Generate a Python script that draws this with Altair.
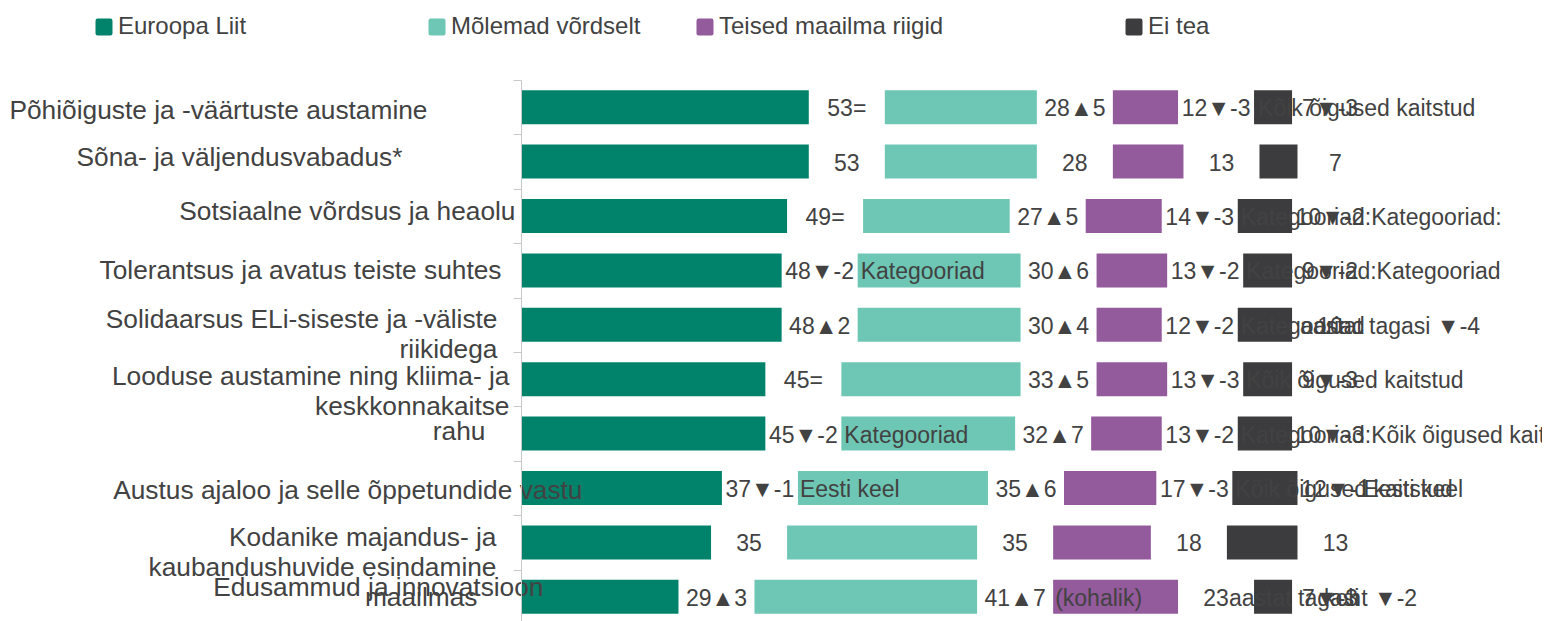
import json
import altair as alt
import pandas as pd

# ---------------- data ----------------
CATEGORIES = [
    "Põhiõiguste ja -väärtuste austamine",
    "Sõna- ja väljendusvabadus*",
    "Sotsiaalne võrdsus ja heaolu",
    "Tolerantsus ja avatus teiste suhtes",
    "Solidaarsus ELi-siseste ja -väliste riikidega",
    "Looduse austamine ning kliima- ja keskkonnakaitse",
    "rahu",
    "Austus ajaloo ja selle õppetundide vastu",
    "Kodanike majandus- ja kaubandushuvide esindamine maailmas",
    "Edusammud ja innovatsioon",
]
BLANK = "\u2800"
LABEL_LINES = [
    ["Põhiõiguste ja -väärtuste austamine"],
    ["Sõna- ja väljendusvabadus*"],
    ["Sotsiaalne võrdsus ja heaolu"],
    ["Tolerantsus ja avatus teiste suhtes"],
    ["Solidaarsus ELi-siseste ja -väliste", "riikidega"],
    ["Looduse austamine ning kliima- ja", "keskkonnakaitse"],
    ["rahu"],
    ["Austus ajaloo ja selle õppetundide vastu"],
    ["Kodanike majandus- ja", "kaubandushuvide esindamine", "maailmas" + BLANK],
    ["Edusammud ja innovatsioon"],
]
SERIES = ["Euroopa Liit", "Mõlemad võrdselt", "Teised maailma riigid", "Ei tea"]

EU = [53, 53, 49, 48, 48, 45, 45, 37, 35, 29]
BOTH = [28, 28, 27, 30, 30, 33, 32, 35, 35, 41]
OTHER = [12, 13, 14, 13, 12, 13, 13, 17, 18, 23]
DONT_KNOW = [7, 7, 10, 9, 10, 9, 10, 12, 13, 7]

EU_CHG = ["=", "", "=", "▼-2", "▲2", "=", "▼-2", "▼-1", "", "▲3"]
BOTH_CHG = ["▲5", "", "▲5", "▲6", "▲4", "▲5", "▲7", "▲6", "", "▲7"]
OTHER_CHG = ["▼-3", "", "▼-3", "▼-2", "▼-2", "▼-3", "▼-2", "▼-3", "", ""]
DK_CHG = ["▼-3", "", "▼-2", "▼-2", "", "▼-3", "▼-3", "▼-1", "", "▼-3"]

# stray overlapping texts seen in the picture: (row, series, anchor, text)
NOTES = [
    (0, 3, "start", "Kõik õigused kaitstud"),
    (2, 3, "start", "Kategooriad:Kategooriad:"),
    (3, 1, "start", "Kategooriad"),
    (3, 3, "start", "Kategooriad:Kategooriad"),
    (4, 3, "start", "Kategooriad"),
    (4, 3, "end", "aastat tagasi ▼-4"),
    (5, 3, "start", "Kõik õigused kaitstud"),
    (6, 1, "start", "Kategooriad"),
    (6, 3, "start", "Kategooriad:Kõik õigused kaitstud"),
    (7, 1, "start", "Eesti keel"),
    (7, 3, "start", "Kõik õigused kaitstud"),
    (7, 3, "end", "Eesti keel"),
    (9, 2, "start", "(kohalik)"),
    (9, 2, "end", "aastat tagasi"),
    (9, 3, "end", "koht ▼-2"),
]

# ---------------- layout / style ----------------
NOTE_SHIFT_PX = [4, 3, 3, 3, 3, 8, 3, 3, 3, 2, 3, 66, 2, 51, 32]
LABEL_DY = [3, -4, -5, 0, -5, -3, -2, 2, -5, -9]
LABEL_PAD = [86, 111, -2, 12, 16, 4, 28, -69, 17, -30]
LEGEND_PAD_BLANKS = {"Euroopa Liit": 7, "Teised maailma riigid": 7}

COLORS = ["#01836b", "#6dc7b4", "#935a9c", "#3c3c3e"]
TEXT = "#424242"
FONT = "Liberation Sans"
GAP = 14
PPU = 5.43
WIDTH = 1018
HEIGHT = 544
X_MAX = WIDTH / PPU
STEP = HEIGHT / 10

values = [EU, BOTH, OTHER, DONT_KNOW]
changes = [EU_CHG, BOTH_CHG, OTHER_CHG, DK_CHG]

rows = []
seg = {}
for i, cat in enumerate(CATEGORIES):
    start = 0
    for k in range(4):
        v = values[k][i]
        rows.append(dict(cat=cat, series=SERIES[k], x0=start, x1=start + v,
                         lx=start + v + GAP / 2, text=f"{v}{changes[k][i]}"))
        seg[(i, k)] = (start, start + v)
        start += v + GAP
bars_df = pd.DataFrame(rows)

note_rows = []
for (r, k, anchor, txt), shift in zip(NOTES, NOTE_SHIFT_PX):
    s, e = seg[(r, k)]
    base_x = s if anchor == "start" else e
    note_rows.append(dict(cat=CATEGORIES[r], nx=base_x + shift / PPU, text=txt))
notes_df = pd.DataFrame(note_rows)

cats_js = json.dumps(CATEGORIES, ensure_ascii=False)
idx = f"indexof({cats_js}, datum.value)"
dy_js = json.dumps([round(d + STEP / 2, 2) for d in LABEL_DY])

y_axis = alt.Axis(
    title=None,
    labelExpr=f"{json.dumps(LABEL_LINES, ensure_ascii=False)}[{idx}]",
    labelOffset={"expr": f"{dy_js}[{idx}]"},
    labelPadding={"expr": f"{json.dumps(LABEL_PAD)}[{idx}]"},
    labelFont=FONT,
    labelFontSize=26.3,
    labelColor=TEXT,
    labelLimit=2000,
    labelLineHeight=30,
    labelOverlap=False,
    labelAlign="right",
    labelBaseline="middle",
    tickOffset=-STEP / 2,
    tickSize=8,
    tickColor="#c8c8c8",
    domainColor="#c8c8c8",
    grid=False,
    zindex=1,
)
Y = alt.Y("cat:N", sort=CATEGORIES,
          scale=alt.Scale(domain=CATEGORIES, paddingInner=0.375, paddingOuter=0.1875),
          axis=y_axis)
XS = alt.Scale(domain=[0, X_MAX], nice=False, zero=False)

legend_expr = " : ".join(
    [f"datum.label == {json.dumps(k, ensure_ascii=False)} ? "
     f"{json.dumps(k + BLANK * n, ensure_ascii=False)}" for k, n in LEGEND_PAD_BLANKS.items()]
    + ["datum.label"]
)
rounded = ("M-0.75,-1H0.75Q1,-1 1,-0.75V0.75Q1,1 0.75,1H-0.75Q-1,1 -1,0.75"
           "V-0.75Q-1,-1 -0.75,-1Z")

bars = alt.Chart(bars_df).mark_bar().encode(
    x=alt.X("x0:Q", scale=XS, axis=None),
    x2="x1:Q",
    y=Y,
    color=alt.Color(
        "series:N",
        scale=alt.Scale(domain=SERIES, range=COLORS),
        sort=SERIES,
        legend=alt.Legend(
            title=None, orient="none", direction="horizontal", columns=4,
            legendX=-429, legendY=-65,
            labelExpr=legend_expr,
            labelFont=FONT, labelFontSize=24, labelColor=TEXT,
            labelLimit=2000, labelOffset=2,
            symbolType=rounded, symbolSize=289, symbolStrokeWidth=0,
            columnPadding=52,
        ),
    ),
)

notes = alt.Chart(notes_df).mark_text(
    align="left", baseline="middle", font=FONT, fontSize=23, color=TEXT, dy=2
).encode(x=alt.X("nx:Q", scale=XS, axis=None), y=Y, text="text:N")

labels = alt.Chart(bars_df).mark_text(
    align="center", baseline="middle", font=FONT, fontSize=23, color=TEXT, dy=2
).encode(x=alt.X("lx:Q", scale=XS, axis=None), y=Y, text="text:N")

chart = alt.layer(bars, notes, labels).properties(
    width=WIDTH, height=HEIGHT,
    autosize=alt.AutoSizeParams(type="none"),
    padding={"left": 513, "top": 72, "right": 3, "bottom": 0},
).configure_view(stroke=None)

chart.save("out.html", embed_options={"renderer": "svg", "actions": False})
